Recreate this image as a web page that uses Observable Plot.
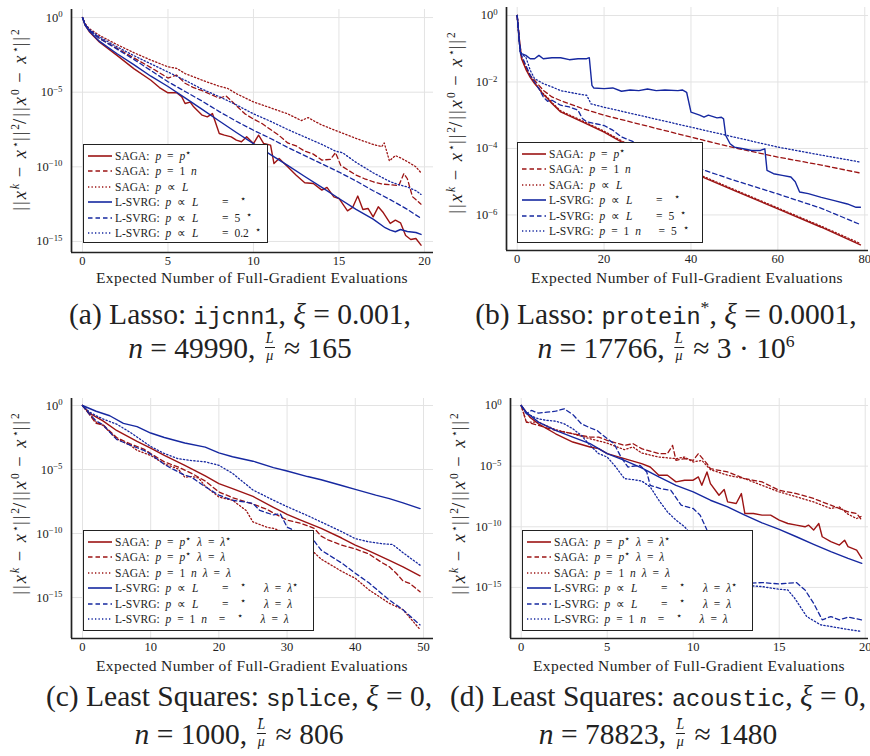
<!DOCTYPE html>
<html><head><meta charset="utf-8">
<script src="https://cdn.jsdelivr.net/npm/d3@7"></script>
<script src="https://cdn.jsdelivr.net/npm/@observablehq/plot@0.6"></script>
<style>
body{margin:0;background:#fff;}
#root{position:relative;width:870px;height:756px;overflow:hidden;font-family:"Liberation Serif","Times New Roman",Times,serif;color:#222;}
.legend{position:absolute;background:#fff;border:1.6px solid #222;box-sizing:border-box;padding-top:3px;font-size:11.5px;}
.row{display:flex;align-items:center;height:15.5px;white-space:pre;word-spacing:3px;}
.row svg{margin:0 3px 0 4px;flex:none;}
.row sup{font-size:0.85em;vertical-align:0.45em;line-height:0;}
.ylab{position:absolute;white-space:pre;font-size:18.5px;letter-spacing:2px;transform:translate(-50%,-50%) rotate(-90deg);}
.ylab sup{font-size:0.62em;vertical-align:0.6em;line-height:0;letter-spacing:0;}
.xlab{position:absolute;white-space:nowrap;font-size:15.5px;letter-spacing:0.4px;transform:translateX(-50%);}
.cap{position:absolute;white-space:nowrap;font-size:29.5px;transform:translateX(-50%);text-align:center;}
.cap code{font-family:"Liberation Mono",monospace;font-size:0.8em;}
.cap sup{font-size:0.6em;vertical-align:0.6em;line-height:0;}
.frac{display:inline-block;vertical-align:-2px;text-align:center;font-size:14px;line-height:15.6px;margin:0 2px;}
.frac span{display:block;padding:0 1px;}
.frac .num{border-bottom:1px solid #222;}
</style></head><body><div id="root"></div>
<script>
// ---------- DATA (x, log10 of relative error) ----------
// (a) Lasso ijcnn1
const aSagaOpt = [[0,0],[0.15,-0.5],[0.4,-0.95],[1,-1.65],[2,-2.52],[3,-3.42],[4,-4.2],[4.5,-4.69],[5,-5.04],[5.5,-5.04],[5.8,-5.3],[6,-5.76],[6.3,-5.67],[6.5,-5.98],[7,-6.54],[7.3,-6.65],[7.6,-6.43],[8,-7.77],[8.3,-7.88],[8.7,-7.99],[9,-8.21],[9.3,-8.32],[9.6,-7.99],[10,-8.44],[10.3,-7.88],[10.6,-8.44],[11,-8.55],[11.2,-9.78],[11.5,-9.44],[12,-10.0],[12.5,-10.56],[13,-11.07],[13.5,-11.12],[14,-11.56],[14.3,-11.38],[14.7,-12.01],[15,-12.12],[15.5,-12.95],[15.8,-12.72],[16.1,-11.96],[16.4,-12.86],[16.7,-12.79],[17,-13.35],[17.3,-12.68],[17.6,-13.08],[18,-13.79],[18.3,-13.57],[18.6,-13.75],[18.9,-14.6],[19.2,-14.87],[19.5,-14.8],[19.8,-15.25]];
const aSaga1n = [[0,0],[0.15,-0.45],[0.4,-0.85],[1,-1.4],[2,-2.05],[3,-2.7],[4,-3.35],[5,-4.05],[5.5,-3.85],[6,-4.4],[6.5,-4.7],[7,-4.9],[7.5,-5.15],[8,-5.4],[8.4,-5.25],[9,-5.9],[9.5,-6.45],[10,-6.8],[10.5,-7.1],[11,-7.5],[11.5,-7.9],[12,-8.4],[12.5,-8.6],[13,-8.95],[13.5,-9.15],[14,-9.55],[14.5,-9.5],[14.8,-9.05],[15.1,-9.9],[15.5,-10.2],[16,-10.55],[16.5,-10.8],[17,-11.0],[17.5,-11.15],[18,-11.2],[18.5,-11.25],[18.8,-10.45],[19,-10.8],[19.3,-12.0],[19.8,-12.5]];
const aSagaL = [[0,0],[0.15,-0.4],[0.4,-0.75],[1,-1.2],[2,-1.8],[3,-2.35],[4,-2.85],[5,-3.3],[5.5,-3.4],[6,-3.75],[7,-4.2],[8,-4.6],[8.5,-4.75],[9,-5.1],[10,-5.65],[11,-6.05],[12,-6.45],[12.8,-6.9],[13.2,-6.7],[13.5,-6.9],[14,-7.2],[15,-7.65],[16,-8.1],[17,-8.5],[17.5,-8.65],[17.65,-8.4],[17.95,-9.6],[18.3,-9.25],[18.6,-9.4],[19,-9.65],[19.5,-10.0],[19.8,-10.4]];
const aLsvrgOpt = [[0,0],[0.15,-0.5],[0.4,-0.9],[1,-1.6],[2,-2.41],[3,-3.15],[4,-3.93],[5,-4.62],[6,-5.38],[7,-6.15],[8,-6.93],[9,-7.7],[10,-8.44],[11,-9.18],[12,-9.9],[13,-10.65],[14,-11.38],[15,-12.12],[16,-12.85],[17,-13.5],[17.7,-14.08],[18,-14.24],[18.3,-14.35],[18.6,-14.2],[19,-14.33],[19.5,-14.4],[19.8,-14.53]];
const aLsvrg5 = [[0,0],[0.15,-0.45],[0.4,-0.85],[1,-1.4],[2,-2.1],[3,-2.8],[4,-3.55],[5,-4.3],[6,-4.95],[7,-5.6],[8,-6.3],[9,-6.95],[10,-7.55],[11,-8.1],[12,-8.7],[13,-9.25],[14,-9.8],[15,-10.35],[16,-10.95],[17,-11.6],[18,-12.2],[19,-12.85],[19.8,-13.45]];
const aLsvrg02 = [[0,0],[0.15,-0.45],[0.4,-0.8],[1,-1.3],[2,-1.95],[3,-2.55],[4,-3.1],[5,-3.65],[6,-4.2],[7,-4.8],[8,-5.3],[9,-5.85],[10,-6.45],[11,-6.95],[12,-7.5],[13,-8.0],[14,-8.5],[14.8,-8.95],[15.2,-9.05],[16,-9.7],[17,-10.4],[18,-11.0],[18.5,-11.2],[19,-11.35],[19.5,-11.6],[19.8,-11.85]];
// (b) Lasso protein*
const bSagaOpt = [[0,0],[0.5,-0.8],[1,-1.3],[2,-1.62],[3,-1.86],[4,-2.05],[5,-2.2],[6,-2.38],[7,-2.5],[8,-2.65],[10,-2.9],[15,-3.2],[20,-3.51],[25,-3.88],[30,-4.15],[40,-4.71],[50,-5.27],[60,-5.82],[70,-6.37],[79,-6.9]];
const bSaga1n = [[0,0],[0.5,-0.7],[1,-1.25],[2,-1.55],[3,-1.8],[4,-1.95],[6,-2.25],[8,-2.45],[10,-2.56],[15,-2.8],[20,-3.0],[30,-3.33],[40,-3.66],[50,-3.98],[60,-4.26],[70,-4.5],[79,-4.74]];
const bSagaL = [[0,0],[0.5,-0.75],[1,-1.27],[2,-1.58],[3,-1.83],[4,-2.02],[5,-2.18],[6,-2.35],[7,-2.47],[8,-2.62],[10,-2.87],[15,-3.17],[20,-3.48],[25,-3.84],[30,-4.12],[40,-4.68],[50,-5.24],[60,-5.79],[70,-6.34],[79,-6.86]];
const bLsvrgOpt = [[0,0],[0.7,-1.1],[1,-1.15],[2,-1.2],[3,-1.3],[4,-1.3],[5,-1.2],[6,-1.3],[8,-1.27],[10,-1.27],[12,-1.33],[14,-1.3],[16,-1.3],[16.6,-1.27],[17.2,-2.1],[17.6,-2.18],[20,-2.2],[22,-2.18],[24,-2.28],[26,-2.24],[28,-2.26],[30,-2.21],[32,-2.26],[34,-2.24],[37,-2.26],[38,-2.24],[39,-2.31],[40,-2.91],[42,-3.0],[43,-3.06],[44,-3.0],[46,-3.08],[47,-3.06],[47.5,-3.11],[48,-3.61],[49,-3.86],[50,-3.96],[52,-4.01],[54,-4.06],[56,-4.06],[57,-4.01],[57.5,-4.66],[59,-4.76],[61,-4.81],[63,-4.86],[64,-5.0],[65,-5.31],[67,-5.36],[70,-5.47],[73,-5.57],[76,-5.67],[78,-5.77],[79,-5.77]];
const bLsvrg5 = [[0,0],[0.5,-0.8],[1,-1.2],[2,-1.5],[3,-1.8],[5,-2.2],[6,-2.45],[7,-2.58],[8,-2.55],[10,-2.7],[12,-2.75],[14,-2.85],[15,-3.1],[16,-3.2],[20,-3.31],[22,-3.45],[24,-3.65],[26,-3.76],[30,-3.96],[35,-4.22],[42,-4.61],[50,-4.96],[60,-5.37],[70,-5.8],[79,-6.29]];
const bLsvrg1n5 = [[0,0],[0.7,-1.15],[2,-1.25],[3,-1.65],[4,-1.9],[6,-2.05],[8,-2.15],[10,-2.26],[14,-2.36],[16,-2.4],[17,-2.66],[20,-2.76],[30,-3.06],[40,-3.36],[50,-3.66],[60,-3.96],[70,-4.2],[79,-4.41]];
// (c) Least squares splice
const cSagaOpt = [[0,0],[1,-0.6],[3,-1.2],[5,-1.95],[8,-2.8],[10,-3.33],[12,-3.9],[15,-4.68],[18,-5.5],[20,-6.1],[22,-6.5],[25,-7.1],[28,-7.95],[30,-8.5],[32,-8.95],[35,-9.6],[38,-10.35],[40,-10.9],[42,-11.35],[45,-12.1],[47,-12.6],[49.5,-13.3]];
const cSagaLam = [[0,0],[1,-0.7],[2,-1.4],[3,-1.5],[5,-2.5],[7,-3.0],[9,-3.4],[10,-3.75],[12,-4.4],[14,-4.8],[15,-5.05],[16,-5.3],[18,-5.9],[20,-6.75],[22,-7.2],[25,-7.7],[27,-8.1],[28,-8.4],[30,-8.95],[32,-9.2],[34,-9.6],[35,-10.2],[36,-10.5],[38,-10.9],[40,-11.2],[42,-11.6],[44,-12.3],[45,-12.6],[46,-13.1],[47,-13.7],[48,-13.9],[49.5,-14.55]];
const cSaga1n = [[0,0],[1,-0.6],[2,-1.3],[3,-1.55],[5,-2.6],[7,-3.1],[8,-3.5],[10,-3.9],[12,-4.55],[14,-4.95],[15,-5.6],[16,-5.55],[17,-5.65],[18,-6.3],[20,-7.15],[22,-7.4],[24,-8.2],[25,-9.1],[27,-9.5],[28,-9.6],[30,-10.0],[32,-10.6],[34,-11.5],[35,-12.0],[38,-12.95],[40,-13.5],[42,-14.4],[45,-15.45],[47,-15.95],[49.5,-17.5]];
const cLsvrgOpt = [[0,0],[2,-0.45],[4,-0.8],[6,-1.4],[8,-1.65],[10,-2.15],[12,-2.5],[15,-2.93],[18,-3.25],[20,-3.7],[22,-4.0],[25,-4.35],[28,-4.85],[30,-5.12],[33,-5.55],[35,-5.8],[38,-6.25],[40,-6.55],[43,-7.0],[45,-7.27],[47,-7.6],[49.5,-8.05]];
const cLsvrgLam = [[0,0],[1,-0.65],[2,-1.2],[3,-1.5],[5,-2.65],[7,-3.1],[9,-3.5],[10,-3.8],[12,-4.6],[13,-4.9],[15,-5.45],[16,-5.6],[18,-6.35],[20,-7.0],[22,-7.4],[24,-7.55],[25,-7.65],[26,-8.2],[28,-8.55],[29,-8.45],[30,-9.5],[32,-10.0],[34,-10.6],[35,-11.3],[38,-12.3],[40,-13.1],[42,-13.85],[45,-15.2],[47,-15.95],[49.5,-17.14]];
const cLsvrg1n = [[0,0],[1,-0.5],[2,-0.8],[3,-1.05],[5,-1.45],[7,-2.1],[10,-3.2],[12,-3.75],[14,-4.15],[16,-4.3],[18,-4.4],[20,-4.67],[22,-5.3],[25,-6.6],[28,-7.4],[30,-7.9],[33,-8.6],[35,-9.1],[38,-9.85],[40,-10.4],[42,-10.65],[44,-10.8],[45.5,-10.86],[47,-11.5],[49.5,-12.47]];
// (d) Least squares acoustic
const dSagaOpt = [[0,0],[0.5,-0.96],[1,-1.51],[2,-2.33],[3,-3.01],[4,-3.42],[4.5,-3.56],[5,-3.97],[6,-4.38],[7,-4.79],[7.5,-5.07],[8,-5.75],[8.5,-5.75],[9,-6.3],[9.5,-6.16],[10,-6.16],[10.3,-5.89],[10.5,-6.58],[10.8,-5.48],[11,-6.44],[11.5,-7.4],[11.8,-6.93],[12,-7.95],[12.5,-8.08],[12.8,-7.26],[13,-8.9],[13.5,-8.9],[14,-9.04],[14.5,-9.04],[15,-9.45],[15.5,-9.73],[16,-9.86],[16.5,-10.0],[16.7,-9.86],[17,-10.27],[17.3,-9.73],[17.5,-10.82],[18,-11.23],[18.5,-11.51],[18.8,-11.1],[19,-11.64],[19.5,-11.92],[19.8,-12.6]];
const dSagaLam = [[0,0],[0.3,-1.37],[1,-1.64],[2,-2.05],[3,-2.33],[4,-2.6],[4.5,-2.6],[5,-2.88],[6,-3.29],[6.5,-3.15],[7,-3.56],[8,-3.97],[8.5,-3.97],[8.8,-3.29],[9,-4.52],[9.5,-4.38],[10,-4.52],[10.3,-3.97],[10.8,-4.79],[11,-5.21],[12,-5.48],[13,-6.03],[14,-6.3],[15,-6.99],[16,-7.26],[17,-7.67],[18,-8.22],[19,-8.77],[19.5,-8.9],[19.8,-9.45]];
const dSaga1n = [[0,0],[0.3,-1.37],[1,-1.37],[2,-2.0],[3,-2.33],[4,-2.74],[5,-3.1],[6,-3.64],[6.5,-3.42],[7,-3.92],[8,-4.25],[9,-4.38],[9.5,-4.25],[10,-4.66],[10.5,-4.52],[11,-5.29],[12,-5.75],[13,-6.03],[14,-6.58],[15,-7.12],[16,-7.53],[17,-7.95],[18,-8.49],[18.5,-8.36],[19,-8.96],[19.5,-9.32],[19.8,-9.12]];
const dLsvrgOpt = [[0,0],[0.3,-0.55],[1,-1.37],[2,-2.05],[3,-2.6],[4,-3.15],[5,-3.97],[6,-4.52],[7,-5.15],[8,-5.89],[9,-6.58],[10,-7.12],[11,-7.81],[12,-8.36],[13,-9.04],[14,-9.67],[15,-10.22],[16,-10.82],[17,-11.45],[18,-12.05],[19,-12.6],[19.8,-13.01]];
const dLsvrgLam = [[0,0],[0.3,-0.68],[0.6,-0.41],[1,-0.63],[1.5,-0.55],[2,-0.47],[2.5,-0.27],[3,-0.74],[3.5,-1.51],[4,-1.84],[4.4,-2.05],[5,-2.74],[5.4,-3.15],[5.8,-4.25],[6.2,-5.07],[6.9,-4.93],[7.3,-5.48],[7.5,-6.58],[8.1,-6.85],[8.7,-6.99],[9.3,-8.22],[10,-8.49],[10.4,-9.04],[10.8,-10.27],[11.5,-11.92],[12.5,-13.56],[13.2,-14.66],[14,-14.6],[15,-14.71],[16,-14.6],[16.5,-15.21],[17,-16.3],[17.5,-17.67],[18,-17.4],[18.5,-17.67],[19,-17.45],[19.8,-17.67]];
const dLsvrg1n = [[0,0],[0.3,-0.68],[1,-1.1],[1.5,-1.23],[2,-1.29],[2.5,-1.51],[3,-1.92],[3.5,-2.47],[4,-3.29],[4.5,-3.97],[5,-4.25],[5.5,-5.07],[6,-6.03],[6.5,-6.11],[7,-6.22],[7.5,-6.71],[8,-7.81],[8.5,-8.77],[9,-9.45],[9.5,-10.0],[10,-10.82],[11,-12.47],[12,-13.84],[13,-14.66],[13.5,-14.88],[14,-14.93],[15,-15.15],[15.5,-15.21],[15.9,-15.89],[16.6,-17.4],[17.4,-18.08],[18.2,-18.27],[19.1,-18.49],[19.8,-18.63]];

// tick values
const aXTicks = [0,5,10,15,20];
const bXTicks = [0,20,40,60,80];
const cXTicks = [0,10,20,30,40,50];
const dXTicks = [0,5,10,15,20];
const aYExp = [0,-5,-10,-15];
const bYExp = [0,-2,-4,-6];
const cYExp = [0,-5,-10,-15];
const dYExp = [0,-5,-10,-15];

// legend labels
const abLegendA = ["SAGA: p = p⋆","SAGA: p = 1 n","SAGA: p ∝ L","L-SVRG: p ∝ L    =  ⋆","L-SVRG: p ∝ L    = 5 ⋆","L-SVRG: p ∝ L    = 0.2 ⋆"];
const abLegendB = ["SAGA: p = p⋆","SAGA: p = 1 n","SAGA: p ∝ L","L-SVRG: p ∝ L    =  ⋆","L-SVRG: p ∝ L    = 5 ⋆","L-SVRG: p = 1 n   = 5 ⋆"];
const cdLegend = ["SAGA: p = p⋆ λ = λ⋆","SAGA: p = p⋆ λ = λ","SAGA: p = 1 n λ = λ","L-SVRG: p ∝ L    =  ⋆   λ = λ⋆","L-SVRG: p ∝ L    =  ⋆   λ = λ","L-SVRG: p = 1 n  =  ⋆   λ = λ"];

const xAxisLabel = "Expected Number of Full-Gradient Evaluations";
const captions = [
  ['(a) Lasso: <code>ijcnn1</code>, <i>ξ</i> = 0.001,', '<i>n</i> = 49990, FRAC ≈ 165'],
  ['(b) Lasso: <code>protein</code><sup>*</sup>, <i>ξ</i> = 0.0001,', '<i>n</i> = 17766, FRAC ≈ 3 · 10<sup>6</sup>'],
  ['(c) Least Squares: <code>splice</code>, <i>ξ</i> = 0,', '<i>n</i> = 1000, FRAC ≈ 806'],
  ['(d) Least Squares: <code>acoustic</code>, <i>ξ</i> = 0,', '<i>n</i> = 78823, FRAC ≈ 1480']
];

// ---------- STYLE ----------
const RED = "#9c1414", BLUE = "#1628a0";
const seriesStyle = [
  {stroke: RED, dash: null, w: 1.4},
  {stroke: RED, dash: "4.5,3", w: 1.3},
  {stroke: RED, dash: "1.3,2.2", w: 1.3},
  {stroke: BLUE, dash: null, w: 1.4},
  {stroke: BLUE, dash: "4.5,3", w: 1.3},
  {stroke: BLUE, dash: "1.3,2.2", w: 1.3}
];

const panels = [
  {frame:[71,433,9,252], xdom:[-0.643,20.53], ylog:[-15.74,0.54], xticks:aXTicks, yexp:aYExp,
   series:[aSagaOpt,aSaga1n,aSagaL,aLsvrgOpt,aLsvrg5,aLsvrg02], labels:abLegendA, legend:[83,144,185,99], xlabY:269, ylabDX:-51, ylabDY:-11, capX:240, capY:301, capLH:27},
  {frame:[506,868,7,250], xdom:[-2.46,80.86], ylog:[-7.07,0.24], xticks:bXTicks, yexp:bYExp,
   series:[bSagaOpt,bSaga1n,bSagaL,bLsvrgOpt,bLsvrg5,bLsvrg1n5], labels:abLegendB, legend:[517,142,186,101], xlabY:269, ylabDX:-50, ylabDY:-6, capX:666, capY:301, capLH:27},
  {frame:[71,433,398,638], xdom:[-1.61,51.47], ylog:[-18.2,0.547], xticks:cXTicks, yexp:cYExp,
   series:[cSagaOpt,cSagaLam,cSaga1n,cLsvrgOpt,cLsvrgLam,cLsvrg1n], labels:cdLegend, legend:[83,530,231,101], xlabY:657, ylabDX:-51, ylabDY:-14, capX:239, capY:679, capLH:34},
  {frame:[510,868,398,638], xdom:[-0.622,20.19], ylog:[-19.21,0.577], xticks:dXTicks, yexp:dYExp,
   series:[dSagaOpt,dSagaLam,dSaga1n,dLsvrgOpt,dLsvrgLam,dLsvrg1n], labels:cdLegend, legend:[522,530,231,101], xlabY:657, ylabDX:-51, ylabDY:-14, capX:658, capY:679, capLH:34}
];

const root = document.getElementById("root");
const supDigits = e => String(e).replace("-", "−");

function fmtLegend(s){
  return s.replace(/(^|[^\w-])(p|n|L)(?=[^\w-]|$)/g, '$1<i>$2</i>')
          .replace(/λ/g,'<i>λ</i>').replace(/⋆/g,'<sup>⋆</sup>');
}

panels.forEach(P => {
  const [L,R,T,B] = P.frame;
  const ML = 60, MR = 4, MT = 8, MB = 24;
  const svgLeft = L - ML, svgTop = T - MT;
  const ylo = Math.pow(10, P.ylog[0]), yhi = Math.pow(10, P.ylog[1]);
  const yticks = P.yexp.map(e => Math.pow(10, e));
  const lines = P.series.map((s, i) => {
    const st = seriesStyle[i];
    const data = s.map(([x, ly]) => ({x, y: Math.pow(10, ly)}));
    return Plot.line(data, {x: "x", y: "y", stroke: st.stroke, strokeWidth: st.w,
      strokeDasharray: st.dash || undefined, curve: "linear"});
  });
  const svg = Plot.plot({
    width: R - L + ML + MR, height: B - T + MT + MB,
    marginLeft: ML, marginRight: MR, marginTop: MT, marginBottom: MB,
    style: {background: "transparent", fontFamily: "'Liberation Serif', 'Times New Roman', serif", fontSize: "12.5px", color: "#222", overflow: "visible"},
    x: {domain: P.xdom},
    y: {type: "log", domain: [ylo, yhi]},
    marks: [
      Plot.gridX(P.xticks, {stroke: "#e3e3e3", strokeOpacity: 1, strokeWidth: 1}),
      Plot.gridY(yticks, {stroke: "#e3e3e3", strokeOpacity: 1, strokeWidth: 1}),
      Plot.axisX(P.xticks, {tickSize: 0, tickPadding: 4, label: null, tickFormat: d => String(d)}),
      Plot.axisY(yticks, {tickSize: 0, tickPadding: 9, label: null, tickFormat: d => "10^" + Math.round(Math.log10(d))}),
      ...lines,
      Plot.ruleX([P.xdom[0]], {stroke: "#222", strokeWidth: 1.7}),
      Plot.ruleY([ylo], {stroke: "#222", strokeWidth: 1.7})
    ]
  });
  svg.style.position = "absolute";
  svg.style.left = svgLeft + "px";
  svg.style.top = svgTop + "px";
  root.appendChild(svg);
  // superscripts on y tick labels
  d3.select(svg).selectAll('g[aria-label="y-axis tick label"] text').each(function(){
    const t = d3.select(this);
    const s = t.text();
    if (s.includes("^")) {
      const e = s.split("^")[1];
      t.text(null);
      t.append("tspan").text("10");
      t.append("tspan").attr("dy", "-0.5em").attr("font-size", "0.7em").text(supDigits(e));
    }
  });

  // legend
  const lg = document.createElement("div");
  lg.className = "legend";
  const [lx, ly, lw, lh] = P.legend;
  Object.assign(lg.style, {left: lx + "px", top: ly + "px", width: lw + "px", height: lh + "px"});
  P.labels.forEach((lab, i) => {
    const st = seriesStyle[i];
    const row = document.createElement("div");
    row.className = "row";
    row.innerHTML = `<svg width="24" height="8"><line x1="0" y1="4" x2="24" y2="4" stroke="${st.stroke}" stroke-width="1.6" ${st.dash ? `stroke-dasharray="${st.dash}"` : ""}/></svg><span>${fmtLegend(lab)}</span>`;
    lg.appendChild(row);
  });
  root.appendChild(lg);

  // y label
  const yl = document.createElement("div");
  yl.className = "ylab";
  yl.innerHTML = '||<i>x</i><sup><i>k</i></sup> − <i>x</i><sup>⋆</sup>||<sup>2</sup>/||<i>x</i><sup>0</sup> − <i>x</i><sup>⋆</sup>||<sup>2</sup>';
  yl.style.left = (L + P.ylabDX) + "px";
  yl.style.top = ((T + B) / 2 + P.ylabDY) + "px";
  root.appendChild(yl);

  // x label
  const xl = document.createElement("div");
  xl.className = "xlab";
  xl.textContent = xAxisLabel;
  xl.style.left = ((L + R) / 2) + "px";
  xl.style.top = P.xlabY + "px";
  root.appendChild(xl);
});

// captions (two lines each)
const fracHTML = '<span class="frac"><span class="num"><i>L̄</i></span><span><i>μ</i></span></span>';
panels.forEach((P, k) => {
  const c = document.createElement("div");
  c.className = "cap";
  c.innerHTML = captions[k].map(s => s.replace("FRAC", fracHTML)).join("<br>");
  c.style.left = P.capX + "px";
  c.style.top = P.capY + "px";
  c.style.lineHeight = P.capLH + "px";
  root.appendChild(c);
});
</script></body></html>
